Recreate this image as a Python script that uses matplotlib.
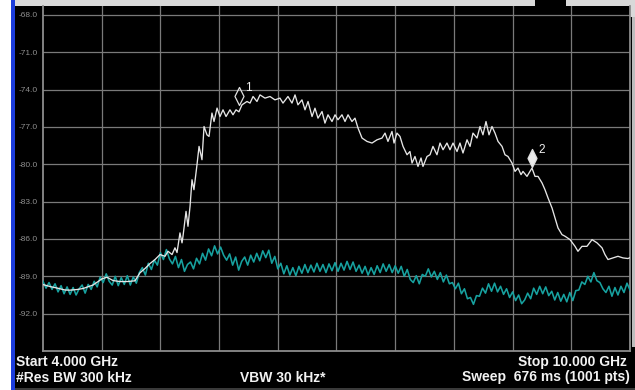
import numpy as np
import matplotlib
matplotlib.use("Agg")
import matplotlib.pyplot as plt
from matplotlib.patches import Rectangle
from matplotlib.path import Path

# ---------------- sweep settings ----------------
start_ghz = 4.0
stop_ghz = 10.0
ref_level = -68.0
db_per_div = 3.0
y_tick_levels = [-68.0, -71.0, -74.0, -77.0, -80.0, -83.0, -86.0, -89.0, -92.0]

# ---------------- trace 1 (max hold, white) ----------------
trace1_freq = [
    4.000, 4.072, 4.143, 4.225, 4.276, 4.348, 4.409, 4.511, 4.603, 4.654,
    4.716, 4.787, 4.859, 4.940, 4.991, 5.043, 5.094, 5.145, 5.196, 5.247,
    5.278, 5.319, 5.349, 5.370, 5.400, 5.421, 5.431, 5.462, 5.482, 5.503,
    5.523, 5.543, 5.574, 5.595, 5.625, 5.646, 5.676, 5.697, 5.727, 5.748,
    5.779, 5.809, 5.840, 5.871, 5.911, 5.942, 5.973, 6.003, 6.034, 6.085,
    6.116, 6.147, 6.187, 6.218, 6.269, 6.320, 6.371, 6.422, 6.453, 6.504,
    6.545, 6.576, 6.606, 6.647, 6.678, 6.709, 6.750, 6.780, 6.811, 6.852,
    6.882, 6.913, 6.954, 6.985, 7.015, 7.056, 7.087, 7.118, 7.158, 7.189,
    7.220, 7.261, 7.312, 7.363, 7.414, 7.465, 7.496, 7.526, 7.567, 7.588,
    7.618, 7.649, 7.680, 7.721, 7.751, 7.772, 7.802, 7.833, 7.864, 7.884,
    7.925, 7.956, 7.986, 8.027, 8.058, 8.089, 8.129, 8.160, 8.191, 8.232,
    8.262, 8.293, 8.334, 8.365, 8.395, 8.436, 8.467, 8.497, 8.528, 8.559,
    8.589, 8.620, 8.651, 8.692, 8.722, 8.753, 8.794, 8.825, 8.855, 8.886,
    8.906, 8.947, 8.998, 9.029, 9.060, 9.101, 9.131, 9.162, 9.203, 9.233,
    9.264, 9.305, 9.336, 9.387, 9.438, 9.468, 9.509, 9.560, 9.612, 9.663,
    9.714, 9.744, 9.775, 9.826, 9.877, 9.928, 9.979, 10.000,
]
trace1_level = [
    -89.66, -89.82, -89.94, -90.10, -90.11, -90.06, -89.98, -89.70, -89.20, -89.07,
    -89.34, -89.42, -89.42, -89.36, -88.72, -88.37, -87.97, -87.65, -87.25, -87.39,
    -86.99, -87.25, -86.71, -87.09, -85.51, -86.31, -85.78, -83.78, -84.98, -83.38,
    -81.24, -82.04, -80.03, -78.56, -79.63, -76.96, -77.63, -77.76, -75.88, -76.56,
    -75.48, -76.16, -75.62, -76.16, -75.62, -76.02, -75.62, -75.78, -75.22, -74.95,
    -75.08, -74.55, -74.95, -74.42, -74.68, -74.55, -74.82, -74.68, -75.08, -74.55,
    -75.08, -74.42, -75.22, -74.82, -75.62, -74.95, -76.16, -75.49, -76.29, -75.76,
    -76.69, -76.02, -76.56, -76.02, -76.42, -76.02, -76.56, -76.02, -76.56, -76.29,
    -77.09, -77.89, -78.16, -78.29, -78.03, -77.89, -77.49, -78.16, -77.36, -78.29,
    -77.49, -77.76, -78.56, -79.23, -78.97, -79.90, -79.37, -80.17, -79.49, -80.17,
    -79.37, -79.23, -78.56, -79.23, -78.29, -78.83, -78.29, -78.83, -78.29, -78.97,
    -78.29, -79.09, -78.03, -78.56, -77.49, -77.89, -76.96, -77.63, -76.56, -77.63,
    -76.96, -77.49, -78.16, -78.56, -79.23, -79.37, -79.90, -80.57, -80.30, -80.83,
    -80.57, -80.97, -80.30, -80.97, -80.97, -81.50, -82.04, -82.70, -83.51, -84.31,
    -85.11, -85.65, -85.78, -86.05, -86.59, -86.99, -86.59, -86.59, -86.05, -86.31,
    -86.71, -87.25, -87.65, -87.52, -87.39, -87.52, -87.57, -87.50,
]

# ---------------- trace 2 (clear/write, teal): evenly spaced sweep points ----------------
trace2_level = [
    -89.40, -89.95, -89.50, -90.05, -89.60, -90.25, -89.75, -90.40, -89.85, -90.45,
    -89.90, -90.50, -90.00, -89.70, -90.35, -89.65, -90.05, -89.40, -89.85, -89.05,
    -89.50, -88.80, -89.40, -89.70, -89.00, -89.75, -89.10, -89.65, -88.95, -89.70,
    -89.05, -89.55, -88.70, -88.30, -88.90, -87.95, -88.45, -87.70, -88.10, -87.10,
    -87.65, -86.85, -87.60, -88.00, -87.40, -88.30, -87.65, -88.60, -88.05, -87.85,
    -88.40, -87.55, -88.00, -87.15, -87.70, -86.80, -87.35, -86.55, -87.20, -86.65,
    -87.30, -87.70, -87.20, -88.10, -87.45, -88.50, -87.80, -87.45, -88.10, -87.30,
    -87.85, -87.15, -87.75, -86.95, -87.50, -86.90, -87.95, -87.40, -88.40, -87.95,
    -88.80, -88.15, -88.90, -88.30, -88.95, -88.20, -88.75, -88.05, -88.70, -88.10,
    -88.65, -87.95, -88.60, -88.05, -88.70, -88.00, -88.55, -87.90, -88.60, -87.95,
    -88.50, -87.80, -88.45, -87.85, -88.60, -88.10, -88.75, -88.20, -88.90, -88.30,
    -88.85, -88.15, -88.70, -88.00, -88.60, -88.05, -88.70, -88.15, -88.75, -88.20,
    -89.00, -88.45, -89.25, -89.50, -88.95, -89.60, -88.85, -89.00, -88.40, -89.05,
    -88.60, -89.25, -88.70, -89.45, -88.90, -89.60, -89.50, -90.00, -89.55, -90.40,
    -90.00, -90.80, -90.70, -91.25, -90.55, -90.60, -89.95, -90.35, -89.60, -90.20,
    -89.55, -90.25, -89.80, -90.45, -90.00, -90.70, -90.25, -90.95, -90.50, -91.20,
    -90.90, -90.35, -90.80, -89.95, -90.45, -89.80, -90.40, -89.85, -90.55, -90.20,
    -90.90, -90.30, -91.00, -90.45, -91.05, -90.30, -90.95, -90.15, -90.10, -89.45,
    -89.65, -89.00, -89.45, -88.70, -89.35, -89.50, -90.00, -90.30, -89.80, -90.60,
    -89.90, -90.50, -89.80, -90.30, -89.55, -90.10,
]

# ---------------- markers ----------------
marker_freq = [6.000, 8.998]
marker_level = [-75.22, -80.19]
marker_names = ["1", "2"]
marker_filled = [False, True]

# ---------------- annotation text ----------------
bottom_left_lines = ["Start 4.000 GHz", "#Res BW 300 kHz"]
bottom_mid_text = "VBW 30 kHz*"
bottom_right_lines = ["Stop 10.000 GHz", "Sweep  676 ms (1001 pts)"]

plt.rcParams["font.family"] = ["Liberation Sans", "DejaVu Sans"]

W, H = 635, 390
fig = plt.figure(figsize=(W / 100, H / 100), dpi=100)
fig.patch.set_facecolor("black")


def px_rect(x, y, w, h, color):
    """Rectangle given in pixel units measured from the top-left corner."""
    fig.add_artist(Rectangle((x / W, 1 - (y + h) / H), w / W, h / H,
                             transform=fig.transFigure, facecolor=color,
                             edgecolor="none", zorder=0))


# frame decorations of the instrument display
px_rect(0, 0, 11, H, "white")
px_rect(11, 0, 4, H, "#1c3ddc")
px_rect(15, 0, 520, 6, "#d9d9d9")
px_rect(566, 0, 69, 17, "#d9d9d9")
px_rect(632, 17, 3, 330, "#bdbdbd")
px_rect(15, 388, 620, 2, "#3a3a3a")

# graticule: top gridline (reference level) sits 15 px from the top, 37.4 px per division
ax_left, ax_right, ax_top, ax_bottom = 43, 630, 6, 351
div_px = 37.4
ax = fig.add_axes([ax_left / W, 1 - ax_bottom / H,
                   (ax_right - ax_left) / W, (ax_bottom - ax_top) / H])
ax.set_facecolor("black")

n_div = 9
bottom_level = ref_level - n_div * db_per_div
top_level = ref_level + (15 - ax_top) / div_px * db_per_div
ax.set_xlim(start_ghz, stop_ghz)
ax.set_ylim(bottom_level, top_level)

ax.set_xticks(np.linspace(start_ghz, stop_ghz, 11)[1:-1])
ax.set_yticks(y_tick_levels)
ax.set_yticklabels([f"{v:.1f}" for v in y_tick_levels])
ax.tick_params(axis="x", length=0, labelbottom=False)
ax.tick_params(axis="y", length=0, pad=3.6, labelsize=6.0, labelcolor="#8f8f8f")
ax.grid(True, color="#7a7a7a", linewidth=0.9)
ax.set_axisbelow(True)

for side in ("left", "bottom", "right"):
    ax.spines[side].set_color("#8c8c8c")
    ax.spines[side].set_linewidth(1.3)
ax.spines["top"].set_visible(False)

trace2_freq = np.linspace(start_ghz, stop_ghz, len(trace2_level))
ax.plot(trace2_freq, trace2_level, color="#17a2a0", linewidth=1.15, zorder=3)
ax.plot(trace1_freq, trace1_level, color="#e6e6e6", linewidth=0.95, zorder=4)

# marker diamonds anchored at their bottom tip
diamond = Path([(0, 0), (0.5, 1), (0, 2), (-0.5, 1), (0, 0)],
               [Path.MOVETO, Path.LINETO, Path.LINETO, Path.LINETO, Path.CLOSEPOLY])
for f, lv, name, filled in zip(marker_freq, marker_level, marker_names, marker_filled):
    ax.plot([f], [lv], marker=diamond, markersize=26,
            markerfacecolor="#ececec" if filled else "none",
            markeredgecolor="#e0e0e0", markeredgewidth=0.9,
            linestyle="none", zorder=5)
    ax.annotate(name, (f, lv), xytext=(6.8, 12.2), textcoords="offset points",
                ha="center", va="center", color="#f0f0f0", fontsize=8.5, zorder=6)

# bottom annotation bar
txt_kw = dict(color="#f2f2f2", fontsize=10, fontweight="bold", va="center",
              transform=fig.transFigure)
fig.text(16 / W, 1 - 362 / H, bottom_left_lines[0], ha="left", **txt_kw)
fig.text(16 / W, 1 - 377.5 / H, bottom_left_lines[1], ha="left", **txt_kw)
fig.text(240 / W, 1 - 377.5 / H, bottom_mid_text, ha="left", **txt_kw)
fig.text(627 / W, 1 - 362 / H, bottom_right_lines[0], ha="right", **txt_kw)
fig.text(630 / W, 1 - 377.5 / H, bottom_right_lines[1], ha="right", **txt_kw)

fig.savefig("out.png", dpi=100, facecolor=fig.get_facecolor())
